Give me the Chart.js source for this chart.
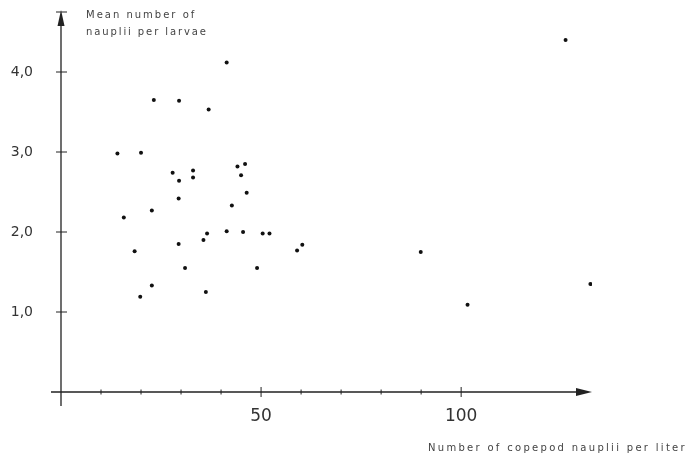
<!DOCTYPE html>
<html lang="en">
<head>
    <meta charset="UTF-8">
    <title>Nauplii per larvae</title>
    <script src="https://cdn.jsdelivr.net/npm/chart.js"></script>
    <style>
        html, body { margin: 0; padding: 0; background: #fff; }
        #wrap { width: 687px; height: 457px; }
    </style>
</head>
<body>
    <div id="wrap"><canvas id="scatterChart"></canvas></div>

    <script>
        // copepod nauplii per liter (x) vs mean nauplii per larva (y)
        const naupliiPerLiter = [
            23.2, 29.5, 36.9, 41.4, 14.1, 20.0, 27.9, 33.0, 29.5, 33.0,
            44.1, 46.0, 45.0, 46.4, 29.4, 22.7, 15.7, 42.7, 36.5, 35.6,
            41.4, 45.5, 50.4, 52.1, 60.3, 59.0, 18.4, 29.4, 31.0, 49.0,
            22.7, 19.8, 36.2, 89.9, 101.6, 126.1, 132.3
        ];
        const meanPerLarva = [
            3.65, 3.64, 3.53, 4.12, 2.98, 2.99, 2.74, 2.77, 2.64, 2.68,
            2.82, 2.85, 2.71, 2.49, 2.42, 2.27, 2.18, 2.33, 1.98, 1.90,
            2.01, 2.00, 1.98, 1.98, 1.84, 1.77, 1.76, 1.85, 1.55, 1.55,
            1.33, 1.19, 1.25, 1.75, 1.09, 4.40, 1.35
        ];
        const xLabelled = [50, 100];
        const yLabelled = [1, 2, 3, 4];

        const points = naupliiPerLiter.map((x, i) => ({ x: x, y: meanPerLarva[i] }));

        const ink = '#222';

        // hand-drawn looking axes: crossing ticks and arrow heads
        const axesPlugin = {
            id: 'axesPlugin',
            beforeDatasetsDraw(chart) {
                const ctx = chart.ctx;
                const xs = chart.scales.x, ys = chart.scales.y;
                const x0 = xs.getPixelForValue(0);
                const y0 = ys.getPixelForValue(0);
                const area = chart.chartArea;
                ctx.save();
                ctx.strokeStyle = ink;
                ctx.fillStyle = ink;
                ctx.lineWidth = 1.3;
                ctx.beginPath();
                ctx.moveTo(x0 - 10, y0);
                ctx.lineTo(area.right - 12, y0);
                ctx.moveTo(x0, y0 + 14);
                ctx.lineTo(x0, area.top + 10);
                ctx.stroke();
                // arrows
                ctx.beginPath();
                ctx.moveTo(area.right, y0);
                ctx.lineTo(area.right - 16, y0 - 4);
                ctx.lineTo(area.right - 16, y0 + 4);
                ctx.closePath();
                ctx.fill();
                ctx.beginPath();
                ctx.moveTo(x0, area.top - 2);
                ctx.lineTo(x0 - 3.5, area.top + 14);
                ctx.lineTo(x0 + 3.5, area.top + 14);
                ctx.closePath();
                ctx.fill();
                // ticks
                ctx.lineWidth = 1;
                ctx.beginPath();
                xs.ticks.forEach(t => {
                    if (t.value === 0) return;
                    const px = xs.getPixelForValue(t.value);
                    const big = xLabelled.includes(t.value);
                    ctx.moveTo(px, y0 - (big ? 5 : 2.5));
                    ctx.lineTo(px, y0 + (big ? 5 : 2.5));
                });
                ys.ticks.forEach(t => {
                    if (t.value === 0) return;
                    const py = ys.getPixelForValue(t.value);
                    ctx.moveTo(x0 - 5, py);
                    ctx.lineTo(x0 + 6, py);
                });
                ctx.stroke();
                // axis titles
                ctx.fillStyle = '#444';
                ctx.font = '10px "DejaVu Sans"';
                ctx.letterSpacing = '2px';
                ctx.textBaseline = 'middle';
                ctx.textAlign = 'left';
                ctx.fillText('Mean number of', x0 + 25, 15);
                ctx.letterSpacing = '1.9px';
                ctx.fillText('nauplii per larvae', x0 + 25, 32);
                ctx.letterSpacing = '2.3px';
                ctx.fillText('Number of copepod nauplii per liter', 428, 448);
                ctx.restore();
            }
        };

        new Chart(document.getElementById('scatterChart'), {
            type: 'scatter',
            data: {
                datasets: [{
                    data: points,
                    backgroundColor: '#111',
                    borderColor: '#111',
                    pointRadius: 2,
                    pointHoverRadius: 2,
                    borderWidth: 0
                }]
            },
            options: {
                responsive: true,
                maintainAspectRatio: false,
                animation: false,
                layout: { padding: { top: 12, right: 95, left: 0, bottom: 0 } },
                plugins: { legend: { display: false }, tooltip: { enabled: false } },
                scales: {
                    x: {
                        type: 'linear',
                        min: 0,
                        max: 132.7,
                        border: { display: false },
                        grid: { display: false, tickLength: 0 },
                        afterBuildTicks: s => { s.ticks = s.ticks.filter(t => t.value <= 100); },
                        afterFit: s => { s.height = 65; s.paddingLeft = 0; s.paddingRight = 0; },
                        ticks: {
                            stepSize: 10,
                            autoSkip: false,
                            maxRotation: 0,
                            padding: 14,
                            color: '#333',
                            font: { family: '"DejaVu Sans"', size: 17 },
                            callback: v => xLabelled.includes(v) ? String(v) : ''
                        }
                    },
                    y: {
                        min: 0,
                        max: 4.75,
                        border: { display: false },
                        grid: { display: false, tickLength: 0 },
                        afterFit: s => { s.width = 61; s.paddingTop = 0; s.paddingBottom = 0; },
                        ticks: {
                            stepSize: 1,
                            padding: 28,
                            color: '#333',
                            font: { family: '"DejaVu Sans"', size: 14 },
                            callback: v => yLabelled.includes(v) ? v.toFixed(1).replace('.', ',') : ''
                        }
                    }
                }
            },
            plugins: [axesPlugin]
        });
    </script>
</body>
</html>
